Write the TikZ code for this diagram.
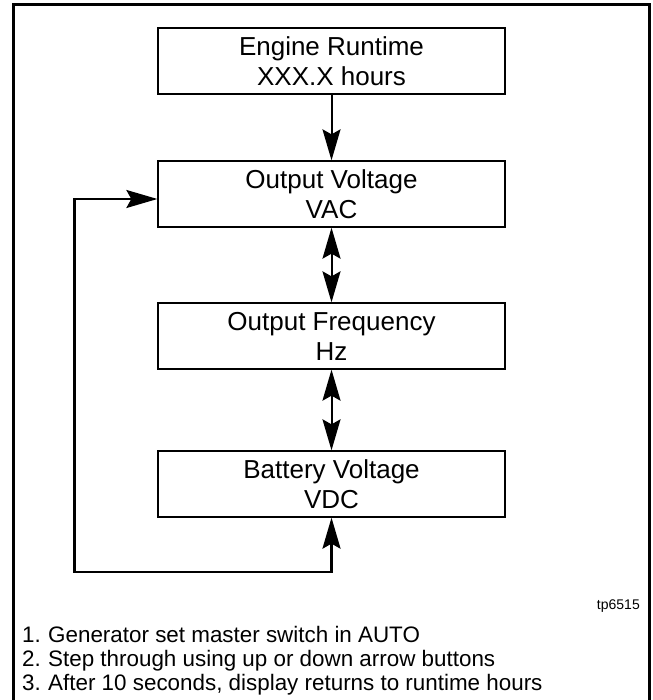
\documentclass[tikz,border=0pt]{standalone}
\usepackage{fontspec}
\setmainfont{Liberation Sans}
\usetikzlibrary{arrows.meta}
\begin{document}
\begin{tikzpicture}[x=1pt,y=-1pt,
  tip/.tip={Stealth[length=31pt,width=18pt,inset=5pt]},
  box/.style={draw, line width=1.3pt, minimum width=347pt, minimum height=66pt,
    align=center, inner sep=0pt, font=\fontsize{26}{30}\selectfont},
  conn/.style={line width=2pt, -tip},
  dconn/.style={line width=2pt, tip-tip},
  loopline/.style={line width=2.3pt, line join=miter, tip-tip},
  note/.style={anchor=base west, inner sep=0pt, font=\fontsize{22.4}{24}\selectfont},
  frame/.style={line width=3pt}
]
\useasboundingbox (0,0) rectangle (652,700);
\draw[frame] (13.5,703) -- (13.5,5) -- (649.5,5) -- (649.5,703);

\node[box] (b1) at (331.5,61) {Engine Runtime\\XXX.X hours};
\node[box] (b2) at (331.5,194) {Output Voltage\\VAC};
\node[box] (b3) at (331.5,336) {Output Frequency\\Hz};
\node[box] (b4) at (331.5,484) {Battery Voltage\\VDC};

\draw[conn] (b1.south) -- (b2.north);
\draw[dconn] (b2.south) -- (b3.north);
\draw[dconn] (b3.south) -- (b4.north);

\coordinate (c1) at (331.5,572);
\coordinate (c2) at (74.5,572);
\coordinate (c3) at (74.5,199);
\draw[loopline] (b4.south) -- (c1) -- (c2) -- (c3) -- (b2.west |- c3);

\node[anchor=base east, inner sep=0pt, font=\fontsize{14}{16}\selectfont] (tp) at (640,609) {tp6515};

\node[note] (n1) at (22,642) {\makebox[26pt][l]{1.}Generator set master switch in AUTO};
\node[note] (n2) at (22,666) {\makebox[26pt][l]{2.}Step through using up or down arrow buttons};
\node[note] (n3) at (22,690) {\makebox[26pt][l]{3.}After 10 seconds, display returns to runtime hours};
\end{tikzpicture}
\end{document}
